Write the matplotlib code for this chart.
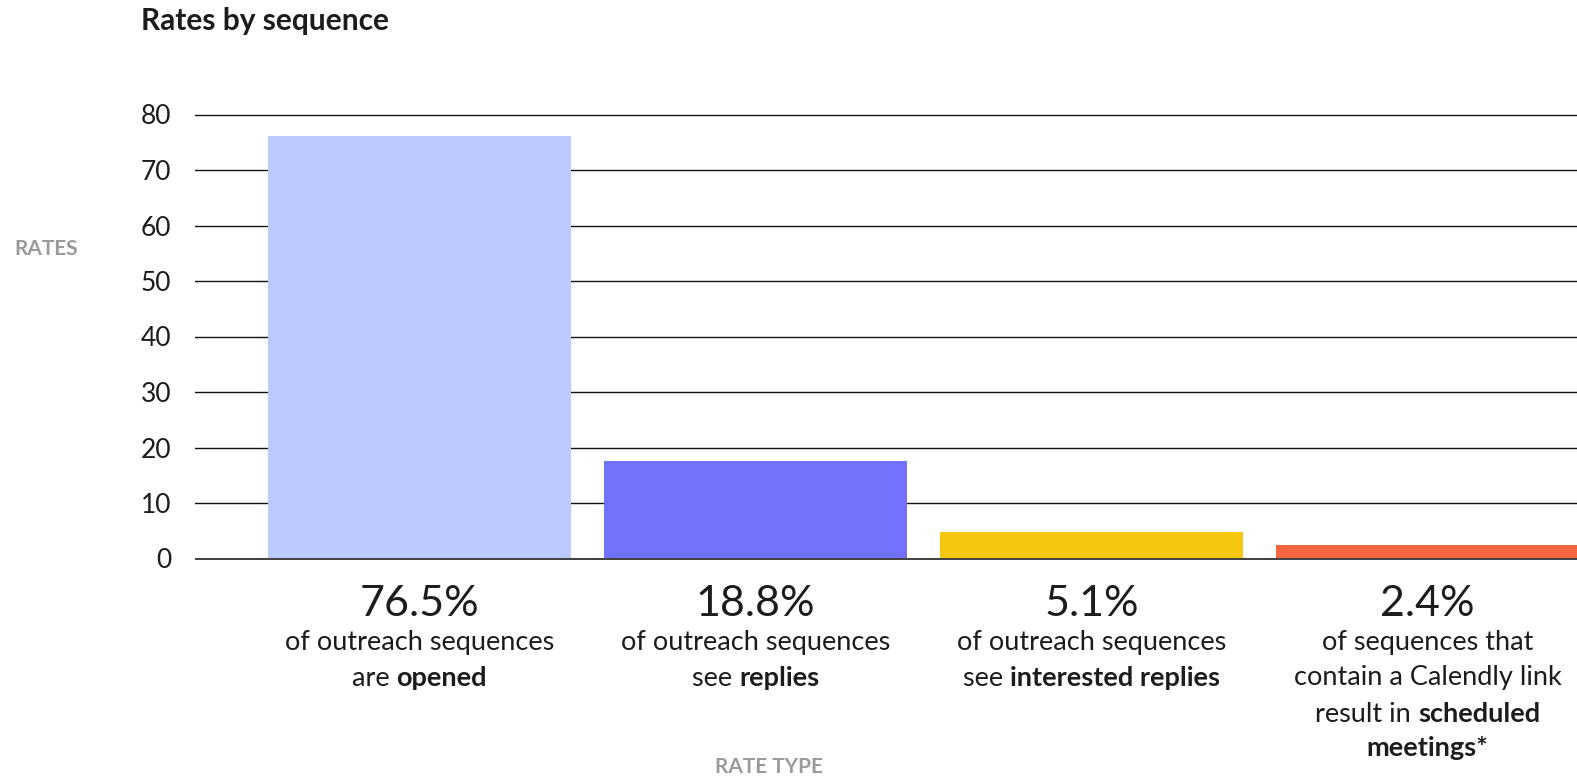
import matplotlib.pyplot as plt
import matplotlib.transforms as mtransforms

plt.rcParams['font.family'] = ['Lato', 'DejaVu Sans']

W, H = 1577, 780

# data
rate_types = ["opened", "replies", "interested replies", "scheduled meetings"]
bar_values = [76.2, 17.6, 4.8, 2.5]
pct_labels = ["76.5%", "18.8%", "5.1%", "2.4%"]
bar_colors = ["#BBC9FE", "#7371FC", "#F5C710", "#F96541"]
y_ticks = [0, 10, 20, 30, 40, 50, 60, 70, 80]
descriptions = [
    [[("of outreach sequences", "normal")],
     [("are ", "normal"), ("opened", "bold")]],
    [[("of outreach sequences", "normal")],
     [("see ", "normal"), ("replies", "bold")]],
    [[("of outreach sequences", "normal")],
     [("see ", "normal"), ("interested replies", "bold")]],
    [[("of sequences that", "normal")],
     [("contain a Calendly link", "normal")],
     [("result in ", "normal"), ("scheduled", "bold")],
     [("meetings*", "bold")]],
]

text_color = "#1c1c1c"

fig = plt.figure(figsize=(W / 100, H / 100), dpi=100)
px_per_unit = 5.55
y_lo, y_hi = -0.3, 80.3
ax_bottom = 558.5 + (-y_lo) * px_per_unit
ax_top = 558.5 - y_hi * px_per_unit
ax = fig.add_axes([195 / W, 1 - ax_bottom / H, 1 - 195 / W, (ax_bottom - ax_top) / H])

x = list(range(len(bar_values)))
ax.bar(x, bar_values, width=0.9, color=bar_colors, zorder=2)
ax.axhline(0, color="#444444", lw=2.2, zorder=3)

ax.set_xlim(-0.668, 3.445)
ax.set_ylim(y_lo, y_hi)
ax.set_yticks(y_ticks)
ax.set_xticks([])
ax.yaxis.grid(True, color="#111111", lw=1.0)
ax.set_axisbelow(True)
for s in ax.spines.values():
    s.set_visible(False)
ax.tick_params(axis="y", length=0, pad=17, labelsize=19, labelcolor=text_color)
for lbl in ax.get_yticklabels():
    lbl.set_va("center_baseline")

fig.text(141 / W, 1 - 21 / H, "Rates by sequence", ha="left", va="center",
         fontsize=21.5, fontweight="bold", color=text_color)
fig.text(14 / W, 1 - 249 / H, "RATES", ha="left", va="center",
         fontsize=15, fontweight="bold", color="#9a9a9a")
fig.text(769 / W, 1 - 767 / H, "RATE TYPE", ha="center", va="center",
         fontsize=15, fontweight="bold", color="#9a9a9a")

trans = mtransforms.blended_transform_factory(ax.transData, fig.transFigure)
renderer = fig.canvas.get_renderer()


def seg_width(s, size, weight):
    t1 = fig.text(0, 0, s + "|", fontsize=size, fontweight=weight)
    t2 = fig.text(0, 0, "|", fontsize=size, fontweight=weight)
    w = t1.get_window_extent(renderer).width - t2.get_window_extent(renderer).width
    t1.remove()
    t2.remove()
    return w


def draw_line(xc, y, segments, size):
    widths = [seg_width(s, size, w) for s, w in segments]
    off = -sum(widths) / 2
    for (s, w), wd in zip(segments, widths):
        tr = mtransforms.offset_copy(trans, fig=fig, x=off, y=0, units="dots")
        fig.text(xc, y, s, transform=tr, ha="left", va="center",
                 fontsize=size, fontweight=w, color=text_color)
        off += wd


line_ys = [642.5, 678, 714, 748.3]
for i, (pct, desc) in enumerate(zip(pct_labels, descriptions)):
    fig.text(x[i], 1 - 604 / H, pct, transform=trans, ha="center", va="center",
             fontsize=31, color=text_color)
    for j, segs in enumerate(desc):
        draw_line(x[i], 1 - line_ys[j] / H, segs, 19.5)

fig.savefig("out.png", dpi=100)
